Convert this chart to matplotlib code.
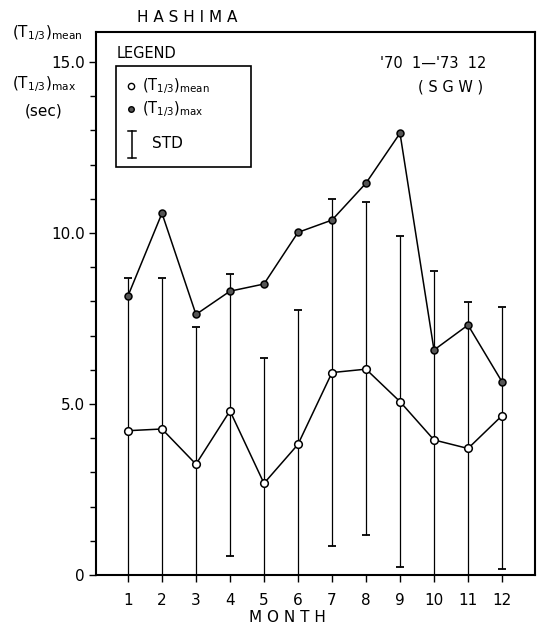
import numpy as np
import matplotlib
matplotlib.use("Agg")
import matplotlib.pyplot as plt
from matplotlib.patches import Rectangle
from matplotlib.ticker import FixedLocator


months = np.arange(1, 13)
month_labels = [str(m) for m in months]

# (T1/3)mean and (T1/3)max in sec
t_mean = [4.22, 4.27, 3.24, 4.80, 2.68, 3.82, 5.92, 6.02, 5.07, 3.95, 3.70, 4.66]
t_max = [8.16, 10.58, 7.62, 8.30, 8.51, 10.02, 10.38, 11.46, 12.92, 6.58, 7.31, 5.65]

# ends of the STD bars (lower end clipped at 0)
std_high = [8.68, 8.68, 7.26, 8.80, 6.35, 7.75, 10.99, 10.91, 9.92, 8.89, 7.99, 7.85]
std_low = [0.0, 0.0, 0.0, 0.56, 0.0, 0.0, 0.85, 1.18, 0.24, 0.0, 0.0, 0.18]

y_ticks = [0, 5, 10, 15]
y_tick_labels = ["0", "5.0", "10.0", "15.0"]

W, H = 544, 627
L, R, T, B = 96, 535, 32, 575


def fx(px):
    return px / W


def fy(py):
    return 1 - py / H


def main():
    plt.rcParams["font.family"] = "DejaVu Sans"
    fig = plt.figure(figsize=(W / 100, H / 100), dpi=100, facecolor="white")
    ax = fig.add_axes([fx(L), fy(B), fx(R) - fx(L), fy(T) - fy(B)])

    mean = np.array(t_mean)
    lo = mean - np.array(std_low)
    hi = np.array(std_high) - mean
    ax.errorbar(months, mean, yerr=[lo, hi], fmt="none", ecolor="black",
                elinewidth=0.9, capsize=3, capthick=1.3, zorder=2)

    ax.plot(months, t_max, color="black", lw=1.1, marker="o", ms=5,
            mfc="#555555", mec="black", mew=1.1, zorder=3)
    ax.plot(months, t_mean, color="black", lw=1.1, marker="o", ms=5.5,
            mfc="white", mec="black", mew=1.1, zorder=3)

    ax.set_xlim(0.06, 12.97)
    ax.set_ylim(0, 15.88)
    ax.set_xticks(months)
    ax.set_xticklabels(month_labels, fontsize=11)
    ax.yaxis.set_major_locator(FixedLocator(y_ticks))
    ax.set_yticklabels(y_tick_labels, fontsize=11)
    ax.yaxis.set_minor_locator(FixedLocator(np.arange(0, 16)))
    ax.tick_params(axis="x", direction="out", length=5, width=1, pad=8)
    ax.tick_params(axis="y", which="major", direction="out", length=5, width=1, pad=3)
    ax.tick_params(axis="y", which="minor", direction="out", length=4, width=1)
    for s in ax.spines.values():
        s.set_linewidth(1.5)

    # titles and axis texts
    fig.text(fx(137), fy(17), "H A S H I M A", fontsize=11, va="center", ha="left")
    fig.text(fx(287), fy(618), "M O N T H", fontsize=11, va="center", ha="center")
    fig.text(fx(12), fy(33), r"$(\mathrm{T}_{1/3})_{\mathrm{mean}}$", fontsize=11,
             va="center", ha="left")
    fig.text(fx(12), fy(84), r"$(\mathrm{T}_{1/3})_{\mathrm{max}}$", fontsize=11,
             va="center", ha="left")
    fig.text(fx(25), fy(111), "(sec)", fontsize=11, va="center", ha="left")
    fig.text(fx(380), fy(63), "'70  1\u2014'73  12", fontsize=10.5, va="center", ha="left")
    fig.text(fx(418), fy(87), "( S G W )", fontsize=10.5, va="center", ha="left")

    # legend drawn by hand
    fig.text(fx(117), fy(53), "LEGEND", fontsize=10.5, va="center", ha="left")
    fig.add_artist(Rectangle((fx(116), fy(167)), fx(251) - fx(116), fy(66) - fy(167),
                             transform=fig.transFigure, fill=False, ec="black", lw=1.2))
    fig.add_artist(plt.Line2D([fx(131)], [fy(86)], marker="o", ms=4.5, mfc="white",
                              mec="black", mew=1, transform=fig.transFigure))
    fig.add_artist(plt.Line2D([fx(131)], [fy(109)], marker="o", ms=4, mfc="#555555",
                              mec="black", mew=1, transform=fig.transFigure))
    fig.add_artist(plt.Line2D([fx(132), fx(132)], [fy(131), fy(158)], color="black",
                              lw=1.1, transform=fig.transFigure))
    for yy in (131, 158):
        fig.add_artist(plt.Line2D([fx(128), fx(136)], [fy(yy), fy(yy)], color="black",
                                  lw=1.1, transform=fig.transFigure))
    fig.text(fx(142), fy(86), r"$(\mathrm{T}_{1/3})_{\mathrm{mean}}$", fontsize=10.5,
             va="center", ha="left")
    fig.text(fx(142), fy(109), r"$(\mathrm{T}_{1/3})_{\mathrm{max}}$", fontsize=10.5,
             va="center", ha="left")
    fig.text(fx(152), fy(143), "STD", fontsize=11, va="center", ha="left")

    fig.savefig("out.png", dpi=100, facecolor="white")


if __name__ == "__main__":
    main()
